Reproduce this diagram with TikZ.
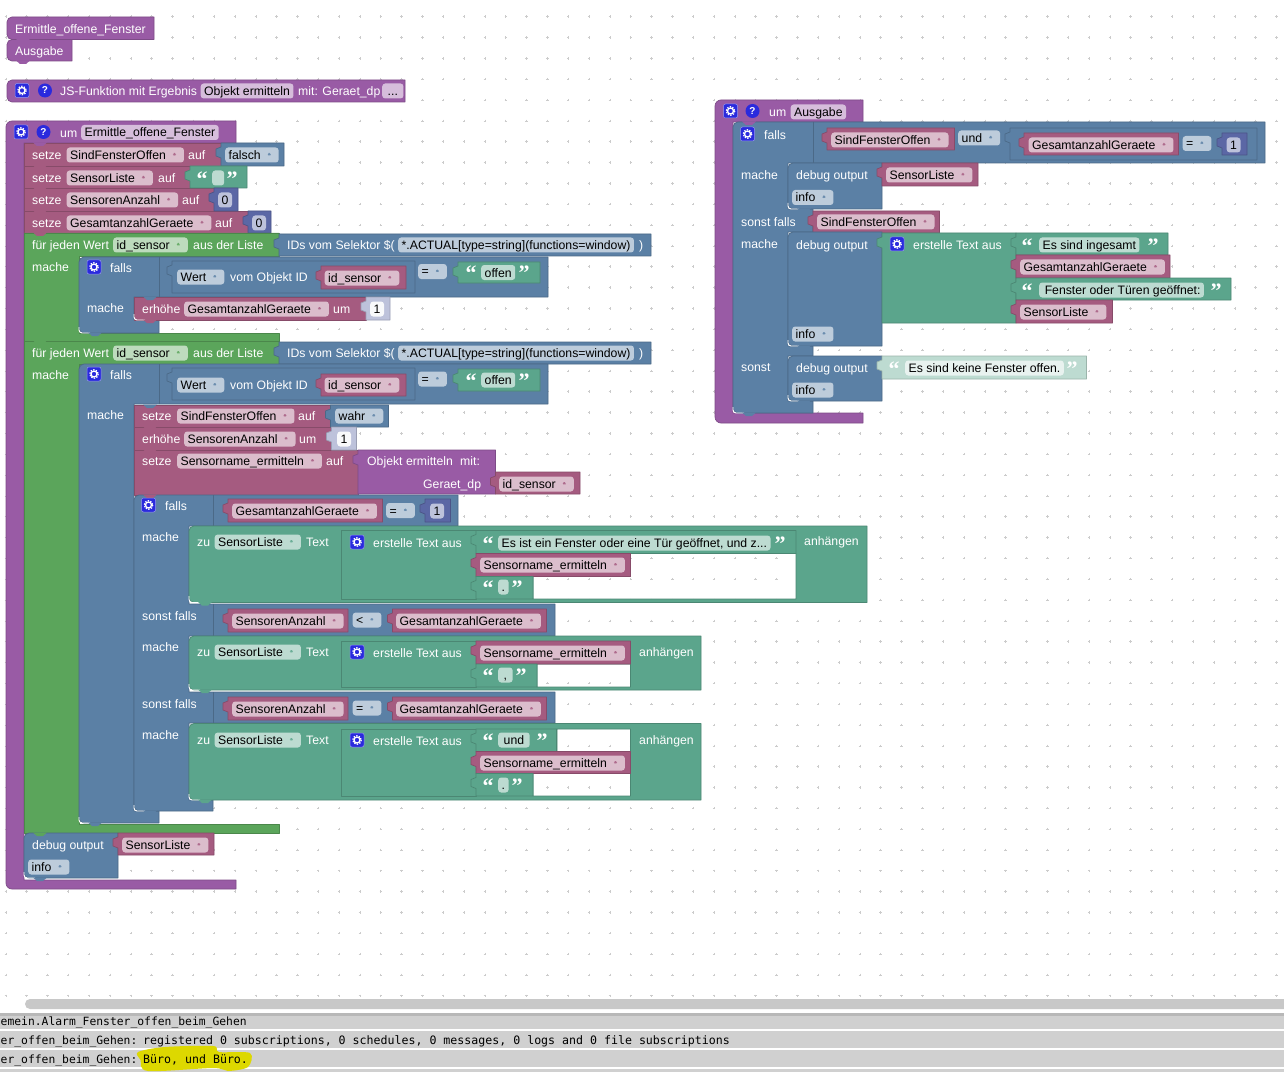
\documentclass[tikz,border=0pt]{standalone}
\usepackage{fontspec}
\setmainfont{Liberation Sans}
\newfontfamily\logfont{DejaVu Sans Mono}
\newfontfamily\quotefont{Liberation Serif}
\definecolor{fn}{HTML}{995BA5}
\definecolor{rd}{HTML}{A55B80}
\definecolor{lp}{HTML}{5BA55B}
\definecolor{lg}{HTML}{5B80A5}
\definecolor{tx}{HTML}{5BA58C}
\definecolor{nm}{HTML}{5B67A5}
\definecolor{nmpale}{HTML}{BDC2DB}
\definecolor{txpale}{HTML}{BDDBD1}
\definecolor{logrow}{HTML}{D0D0D0}
\definecolor{scrollb}{HTML}{C8C8C8}
\definecolor{marker}{HTML}{DDD800}
\definecolor{gearblue}{HTML}{2A2ADD}
\tikzset{
  every node/.append style={inner sep=0pt},
  bk/.style={fill=#1, draw=#1!82!black, line width=.7pt, line join=round},
  lb/.style={anchor=mid west, yshift=-2pt, text=white, font=\fontsize{12.25}{14}\selectfont},
  fd/.style={anchor=west, fill=#1!40!white, text=black, rounded corners=3pt, inner xsep=3.5pt,
    font=\fontsize{12.25}{14}\selectfont, minimum height=15pt, text height=10pt, text depth=1pt},
  dd/.style={fd=#1, execute at end node={\hspace{14.5pt}},
    path picture={\fill[#1!90!white] ([shift={(-12pt,2pt)}]path picture bounding box.east)
      -- ++(5pt,0pt) -- ++(-2.5pt,-4pt) -- cycle;}},
  qm/.style={anchor=mid west, xshift=-.5pt, yshift=-8pt, text=white, font=\quotefont\bfseries\fontsize{22}{22}\selectfont},
  hp/.style={circle, fill=gearblue, text=white, minimum size=14pt, font=\bfseries\fontsize{10}{10}\selectfont},
  logline/.style={anchor=mid west, yshift=-2pt, text=black, font=\logfont\fontsize{11.6}{13}\selectfont},
  logprefix/.style={anchor=mid west, yshift=-2pt, text=black, font=\logfont\fontsize{11.35}{13}\selectfont},
  shine/.style={draw=white, line width=.9pt, rounded corners=3pt},
  gearicon/.pic={
    \fill[gearblue, draw=gearblue!50!white, line width=.5pt, rounded corners=2pt] (-7,-7) rectangle (7,7);
    \draw[white, line width=1.3pt] (0,0) circle (3);
    \draw[white, line width=1.2pt, dash pattern=on 1.4pt off 1.3pt] (0,0) circle (4.3);
  }
}
% plain block, value block with a tab on the left, little tab hanging under a block
\newcommand{\blk}[5]{\draw[bk=#1] (#2,#3) rectangle (#4,#5);}
\newcommand{\val}[5]{\draw[bk=#1] (#2,#3) -- (#4,#3) -- (#4,#5) -- (#2,#5) -- (#2,#3+15) -- (#2-5,#3+13) -- (#2-5,#3+6) -- (#2,#3+4) -- cycle;}
\newcommand{\dent}[3]{\fill[#1] (#2+9,#3-.5) -- (#2+13,#3+3) -- (#2+19,#3+3) -- (#2+23,#3-.5) -- cycle;}
\newcommand{\rblk}[5]{\draw[bk=#1] (#4,#3) -- (#4,#5) [rounded corners=5pt] -- (#2,#5) -- (#2,#3) [sharp corners] -- cycle;}

\begin{document}
\begin{tikzpicture}[x=1pt,y=-1pt]
    \useasboundingbox (0,0) rectangle (1284,1075);
    \clip (0,0) rectangle (1284,1075);
    \fill[white] (0,0) rectangle (1284,1075);

    % workspace dots
    \foreach \i in {0,...,61}
      \foreach \j in {0,...,47}
        \draw[black!20, line width=.5pt] (5.8+20.83*\i-1.2,16.7+20.83*\j) -- ++(2.4,0) (5.8+20.83*\i,16.7+20.83*\j-1.2) -- ++(0,2.4);

    % call blocks top left
    \rblk{fn}{7}{17}{154}{39.5}
    \rblk{fn}{7}{39.5}{72}{61}
    \dent{fn}{7}{39.5}
    \dent{fn}{7}{61}
    \node[lb] (callA) at (15,29) {Ermittle\_offene\_Fenster};
    \node[lb] (callB) at (15,51) {Ausgabe};

    % JS function
    \rblk{fn}{7}{80}{405}{102}
    \pic at (22,90.5) {gearicon};
    \node[hp] (helpJs) at (45,90.5) {?};
    \node[lb] (jsText) at (60,91) {JS-Funktion mit Ergebnis};
    \node[fd=fn] (jsName) at (200.5,91) {Objekt ermitteln};
    \node[lb] (jsMit) at (298,91) {mit: Geraet\_dp};
    \node[fd=fn] (jsDots) at (382,91) {\,...\,};

    % function Ermittle_offene_Fenster
    \draw[bk=fn] (236,121) -- (236,143) -- (24,143) -- (24,880) -- (236,880) -- (236,889) [rounded corners=6pt] -- (6,889) -- (6,121) [sharp corners] -- cycle;
    \pic at (21,132) {gearicon};
    \node[hp] (helpMain) at (43.5,132) {?};
    \node[lb] (umMain) at (60,133) {um};
    \node[fd=fn] (mainName) at (81,132.5) {Ermittle\_offene\_Fenster};

    % first setze stack
    \blk{rd}{24}{143}{221}{166}
    \blk{rd}{24}{166}{190}{188}
    \blk{rd}{24}{188}{214}{211}
    \blk{rd}{24}{211}{248}{233}
    \val{lg}{221}{143}{284}{166}
    \val{tx}{190}{166}{247}{188}
    \val{nm}{214}{188}{238}{211}
    \val{nm}{248}{211}{271}{233}
    \dent{fn}{24}{143}
    \dent{rd}{24}{166}
    \dent{rd}{24}{188}
    \dent{rd}{24}{211}
    \node[lb] (setA) at (32,155) {setze};
    \node[dd=rd] (setAvar) at (66.5,155) {SindFensterOffen};
    \node[lb] (setAauf) at (188,155) {auf};
    \node[dd=lg] (setAval) at (225,155) {falsch};
    \node[lb] (setB) at (32,178) {setze};
    \node[dd=rd] (setBvar) at (66.5,178) {SensorListe};
    \node[lb] (setBauf) at (158,178) {auf};
    \node[qm] (setBq1) at (197,176) {“};
    \node[fd=tx, minimum width=12pt] (setBval) at (212,178) {};
    \node[qm] (setBq2) at (227,176) {”};
    \node[lb] (setC) at (32,200) {setze};
    \node[dd=rd] (setCvar) at (66.5,200) {SensorenAnzahl};
    \node[lb] (setCauf) at (182,200) {auf};
    \node[fd=nm] (setCval) at (218,200) {0};
    \node[lb] (setD) at (32,223) {setze};
    \node[dd=rd] (setDvar) at (66.5,223) {GesamtanzahlGeraete};
    \node[lb] (setDauf) at (215,223) {auf};
    \node[fd=nm] (setDval) at (252,223) {0};

    % first for each loop
    \draw[bk=lp] (24,233) -- (279,233) -- (279,256) -- (79,256) -- (79,333) -- (279,333) -- (279,341) -- (24,341) -- cycle;
    \val{lg}{279}{234}{651}{256}
    \dent{rd}{24}{233}
    \node[lb] (forA) at (32,245) {für jeden Wert};
    \node[dd=lp] (forAvar) at (113,245) {id\_sensor};
    \node[lb] (forAaus) at (193,245) {aus der Liste};
    \node[lb] (forAsel) at (287,245) {IDs vom Selektor \$(};
    \node[fd=lg] (forAstr) at (398,245) {*.ACTUAL[type=string](functions=window)};
    \node[lb] (forAend) at (639,245) {)};
    \node[lb] (forAmache) at (32,267) {mache};

    \draw[bk=lg] (548,257) -- (548,297) -- (134,297) -- (134,320) -- (159,320) -- (159,333) [rounded corners=5pt] -- (79,333) -- (79,257) [sharp corners] -- cycle;
    \draw[shine] (79,327) -- (79,333) -- (90,333);
    \dent{lg}{79}{333}
    \draw[bk=lg] (159,257) -- (159,297);
    \pic at (94,267) {gearicon};
    \node[lb] (ifA) at (110,268) {falls};
    \val{lg}{172}{261}{415}{293}
    \node[dd=lg] (ifAwert) at (177,277) {Wert};
    \node[lb] (ifAobj) at (230,277) {vom Objekt ID};
    \val{rd}{321}{266}{406}{289}
    \node[dd=rd] (ifAid) at (324.5,278) {id\_sensor};
    \node[dd=lg] (ifAeq) at (418,271.5) {=};
    \val{tx}{458}{262}{540}{283}
    \node[qm] (ifAq1) at (466,270) {“};
    \node[fd=tx] (ifAoffen) at (481,272.5) {offen};
    \node[qm] (ifAq2) at (519,270) {”};
    \node[lb] (ifAmache) at (87,308) {mache};
    \blk{rd}{134}{297}{366}{320}
    \draw[shine] (134,314) -- (134,320) -- (145,320);
    \dent{lg}{134}{297}
    \dent{rd}{134}{320}
    \val{nmpale}{366}{297}{390}{320}
    \node[lb] (incA) at (142,309) {erhöhe};
    \node[dd=rd] (incAvar) at (184,309) {GesamtanzahlGeraete};
    \node[lb] (incAum) at (333,309) {um};
    \node[fd=nmpale, fill=white!90!nmpale] (incAval) at (370,309) {1};

    % second for each loop
    \draw[bk=lp] (24,341) -- (279,341) -- (279,364) -- (79,364) -- (79,824) -- (279,824) -- (279,833) -- (24,833) -- cycle;
    \val{lg}{279}{342}{651}{364}
    \dent{lp}{24}{341}
    \node[lb] (forB) at (32,353) {für jeden Wert};
    \node[dd=lp] (forBvar) at (113,353) {id\_sensor};
    \node[lb] (forBaus) at (193,353) {aus der Liste};
    \node[lb] (forBsel) at (287,353) {IDs vom Selektor \$(};
    \node[fd=lg] (forBstr) at (398,353) {*.ACTUAL[type=string](functions=window)};
    \node[lb] (forBend) at (639,353) {)};
    \node[lb] (forBmache) at (32,375) {mache};

    \draw[bk=lg] (548,364) -- (548,404) -- (134,404) -- (134,811) -- (159,811) -- (159,823) [rounded corners=5pt] -- (79,823) -- (79,364) [sharp corners] -- cycle;
    \draw[shine] (79,817) -- (79,823) -- (90,823);
    \dent{lg}{79}{823}
    \draw[bk=lg] (159,364) -- (159,404);
    \pic at (94,374) {gearicon};
    \node[lb] (ifB) at (110,375) {falls};
    \val{lg}{172}{368}{415}{400}
    \node[dd=lg] (ifBwert) at (177,385) {Wert};
    \node[lb] (ifBobj) at (230,385) {vom Objekt ID};
    \val{rd}{321}{374}{406}{396}
    \node[dd=rd] (ifBid) at (324.5,385) {id\_sensor};
    \node[dd=lg] (ifBeq) at (418,379) {=};
    \val{tx}{458}{369}{540}{391}
    \node[qm] (ifBq1) at (466,378) {“};
    \node[fd=tx] (ifBoffen) at (481,380) {offen};
    \node[qm] (ifBq2) at (519,378) {”};
    \node[lb] (ifBmache) at (87,415) {mache};

    % statements inside the second falls
    \blk{rd}{134}{405}{330.5}{427}
    \blk{rd}{134}{427}{331.5}{450}
    \blk{rd}{134}{450}{358}{495}
    \val{lg}{330.5}{405}{388.5}{427}
    \val{nmpale}{331.5}{427}{356.5}{450}
    \val{fn}{358}{450}{495.5}{494}
    \val{rd}{495.5}{472}{580}{494}
    \dent{lg}{134}{405}
    \dent{rd}{134}{427}
    \dent{rd}{134}{450}
    \node[lb] (setE) at (142,416) {setze};
    \node[dd=rd] (setEvar) at (177,416) {SindFensterOffen};
    \node[lb] (setEauf) at (298,416) {auf};
    \node[dd=lg] (setEval) at (335,416) {wahr};
    \node[lb] (incB) at (142,439) {erhöhe};
    \node[dd=rd] (incBvar) at (184,439) {SensorenAnzahl};
    \node[lb] (incBum) at (299,439) {um};
    \node[fd=nmpale, fill=white!90!nmpale] (incBval) at (337,439) {1};
    \node[lb] (setF) at (142,461) {setze};
    \node[dd=rd] (setFvar) at (177,461) {Sensorname\_ermitteln};
    \node[lb] (setFauf) at (326,461) {auf};
    \node[lb] (objName) at (367,461) {Objekt ermitteln};
    \node[lb] (objMit) at (460,461) {mit:};
    \node[lb] (objArg) at (423,484) {Geraet\_dp};
    \node[dd=rd] (objId) at (499,484) {id\_sensor};

    % inner falls with the two sonst falls
    \draw[bk=lg] (458,495) -- (458,526) -- (189,526) -- (189,604) -- (555,604) -- (555,636) -- (189,636) -- (189,692) -- (555,692) -- (555,723) -- (189,723) -- (189,800) -- (213,800) -- (213,811) [rounded corners=5pt] -- (134,811) -- (134,495) [sharp corners] -- cycle;
    \draw[shine] (134,805) -- (134,811) -- (145,811);
    \dent{rd}{134}{495}
    \dent{lg}{134}{811}
    \draw[bk=lg] (213,495) -- (213,526);
    \draw[bk=lg] (213,604) -- (213,636);
    \draw[bk=lg] (213,692) -- (213,723);
    \pic at (148.5,505) {gearicon};
    \node[lb] (ifC) at (165,506) {falls};
    \val{rd}{228}{499}{382.5}{522}
    \node[dd=rd] (ifCvar) at (232,511) {GesamtanzahlGeraete};
    \node[dd=lg] (ifCeq) at (386,510.5) {=};
    \val{nm}{425}{499}{450.5}{522}
    \node[fd=nm] (ifCval) at (430,511) {1};
    \node[lb] (ifCmache) at (142,537) {mache};
    \node[lb] (elifA) at (142,616) {sonst falls};
    \val{rd}{228}{609}{348}{632}
    \node[dd=rd] (elifAvar) at (232,621) {SensorenAnzahl};
    \node[dd=lg] (elifAlt) at (352.5,620) {<};
    \val{rd}{392.5}{609}{546.5}{632}
    \node[dd=rd] (elifAsum) at (396,621) {GesamtanzahlGeraete};
    \node[lb] (elifAmache) at (142,647) {mache};
    \node[lb] (elifB) at (142,704) {sonst falls};
    \val{rd}{228}{697}{348}{720}
    \node[dd=rd] (elifBvar) at (232,709) {SensorenAnzahl};
    \node[dd=lg] (elifBeq) at (352.5,708) {=};
    \val{rd}{392.5}{697}{546.5}{720}
    \node[dd=rd] (elifBsum) at (396,709) {GesamtanzahlGeraete};
    \node[lb] (elifBmache) at (142,735) {mache};

    % first anhaengen block, holes let the dots through
    \draw[bk=tx, even odd rule] (867,526) -- (867,602.5) [rounded corners=5pt] -- (189,602.5) -- (189,526) [sharp corners] -- cycle
       (533,576.5) -- (630.5,576.5) -- (630.5,553.5) -- (796,553.5) -- (796,599) -- (533,599) -- cycle;
    \draw[shine] (189,596) -- (189,602.5) -- (200,602.5);
    \dent{lg}{134}{526}
    \dent{tx}{189}{602.5}
    \node[lb] (addA) at (197,542) {zu};
    \node[dd=tx] (addAvar) at (214.5,542) {SensorListe};
    \node[lb] (addAtext) at (306,542) {Text};
    \blk{tx}{341.5}{530.5}{476}{599}
    \pic at (357,542) {gearicon};
    \node[lb] (joinA) at (373,543) {erstelle Text aus};
    \val{tx}{476}{530.5}{796}{553.5}
    \node[qm] (joinAq1) at (483,541) {“};
    \node[fd=tx] (joinAa) at (498,543) {Es ist ein Fenster oder eine Tür geöffnet, und z...};
    \node[qm] (joinAq2) at (775,541) {”};
    \val{rd}{476}{553.5}{630.5}{576.5}
    \node[dd=rd] (joinAb) at (480,565) {Sensorname\_ermitteln};
    \val{tx}{476}{576.5}{533}{599}
    \node[qm] (joinAq3) at (483,585) {“};
    \node[fd=tx] (joinAc) at (498,587) {.};
    \node[qm] (joinAq4) at (512,585) {”};
    \node[lb] (addAend) at (804,541) {anhängen};

    % second anhaengen block
    \draw[bk=tx, even odd rule] (701,636) -- (701,690) [rounded corners=5pt] -- (189,690) -- (189,636) [sharp corners] -- cycle
       (537,664) -- (630.5,664) -- (630.5,687) -- (537,687) -- cycle;
    \draw[shine] (189,684) -- (189,690) -- (200,690);
    \dent{tx}{189}{690}
    \node[lb] (addB) at (197,652) {zu};
    \node[dd=tx] (addBvar) at (214.5,652) {SensorListe};
    \node[lb] (addBtext) at (306,652) {Text};
    \blk{tx}{341.5}{641}{476}{687}
    \pic at (357,652) {gearicon};
    \node[lb] (joinB) at (373,653) {erstelle Text aus};
    \val{rd}{476}{641}{630.5}{664}
    \node[dd=rd] (joinBa) at (480,653) {Sensorname\_ermitteln};
    \val{tx}{476}{664}{537}{687}
    \node[qm] (joinBq1) at (483,673) {“};
    \node[fd=tx] (joinBb) at (498,675) {\,,\,};
    \node[qm] (joinBq2) at (516,673) {”};
    \node[lb] (addBend) at (639,652) {anhängen};

    % third anhaengen block
    \draw[bk=tx, even odd rule] (701,723.5) -- (701,800) [rounded corners=5pt] -- (189,800) -- (189,723.5) [sharp corners] -- cycle
       (557,729) -- (630.5,729) -- (630.5,751.5) -- (557,751.5) -- cycle
       (533,773.5) -- (630.5,773.5) -- (630.5,796) -- (533,796) -- cycle;
    \draw[shine] (189,794) -- (189,800) -- (200,800);
    \dent{tx}{189}{800}
    \node[lb] (addC) at (197,740) {zu};
    \node[dd=tx] (addCvar) at (214.5,740) {SensorListe};
    \node[lb] (addCtext) at (306,740) {Text};
    \blk{tx}{341.5}{729}{476}{796}
    \pic at (357,740) {gearicon};
    \node[lb] (joinC) at (373,741) {erstelle Text aus};
    \val{tx}{476}{729}{556.5}{751.5}
    \node[qm] (joinCq1) at (483,738) {“};
    \node[fd=tx] (joinCa) at (498,740) {\,und\,};
    \node[qm] (joinCq2) at (537,738) {”};
    \val{rd}{476}{751.5}{630.5}{773.5}
    \node[dd=rd] (joinCb) at (480,763) {Sensorname\_ermitteln};
    \val{tx}{476}{773.5}{533}{796}
    \node[qm] (joinCq3) at (483,783) {“};
    \node[fd=tx] (joinCc) at (498,785) {.};
    \node[qm] (joinCq4) at (512,783) {”};
    \node[lb] (addCend) at (639,740) {anhängen};

    % debug output at the end of the function
    \rblk{lg}{24}{833}{118}{878}
    \draw[shine] (24,872) -- (24,878) -- (35,878);
    \dent{lp}{24}{833}
    \dent{lg}{24}{878}
    \val{rd}{118}{833}{214}{855}
    \node[lb] (logA) at (32,845) {debug output};
    \node[dd=rd] (logAvar) at (122,845) {SensorListe};
    \node[dd=lg] (logAinfo) at (28,867) {info};

    % function Ausgabe on the right
    \draw[bk=fn] (863,100) -- (863,122) -- (733,122) -- (733,413) -- (863,413) -- (863,423) [rounded corners=6pt] -- (715,423) -- (715,100) [sharp corners] -- cycle;
    \pic at (730.5,111) {gearicon};
    \node[hp] (helpOut) at (752.5,111) {?};
    \node[lb] (umOut) at (769,112) {um};
    \node[fd=fn] (outName) at (790.5,112) {Ausgabe};

    \draw[bk=lg] (1265,122) -- (1265,163) -- (788,163) -- (788,209) -- (813,209) -- (813,232) -- (788,232) -- (788,346) -- (813,346) -- (813,356) -- (788,356) -- (788,401) -- (813,401) -- (813,413) [rounded corners=5pt] -- (733,413) -- (733,122) [sharp corners] -- cycle;
    \draw[shine] (733,407) -- (733,413) -- (744,413);
    \dent{fn}{733}{122}
    \dent{lg}{733}{413}
    \draw[bk=lg] (813,122) -- (813,163);
    \pic at (747.5,134) {gearicon};
    \node[lb] (ifD) at (764,135) {falls};
    \val{rd}{827}{128}{954.5}{150}
    \node[dd=rd] (ifDvar) at (831,140) {SindFensterOffen};
    \node[dd=lg] (ifDund) at (958,138) {und};
    \val{lg}{1010}{128}{1257}{160}
    \val{rd}{1024}{133}{1178.5}{155}
    \node[dd=rd] (ifDsum) at (1028.5,145) {GesamtanzahlGeraete};
    \node[dd=lg] (ifDeq) at (1182.5,143.5) {=};
    \val{nm}{1222}{133}{1247}{155}
    \node[fd=nm] (ifDval) at (1226.5,145) {1};

    \node[lb] (ifDmache) at (741,175) {mache};
    \rblk{lg}{788}{163}{882}{209}
    \draw[shine] (788,203) -- (788,209) -- (799,209);
    \dent{lg}{788}{209}
    \node[lb] (logB) at (796,175) {debug output};
    \val{rd}{882}{163}{978}{186}
    \node[dd=rd] (logBvar) at (886,175) {SensorListe};
    \node[dd=lg] (logBinfo) at (792,197.5) {info};

    \node[lb] (elifC) at (741,222) {sonst falls};
    \val{rd}{813}{211}{939.5}{233}
    \node[dd=rd] (elifCvar) at (817,222) {SindFensterOffen};

    \node[lb] (elifCmache) at (741,244) {mache};
    \rblk{lg}{788}{232}{882}{346}
    \draw[shine] (788,340) -- (788,346) -- (799,346);
    \dent{lg}{788}{346}
    \node[lb] (logC) at (796,245) {debug output};
    \val{tx}{882}{233}{1016}{323}
    \pic at (897,244) {gearicon};
    \node[lb] (joinD) at (913,245) {erstelle Text aus};
    \val{tx}{1016}{233}{1168}{255}
    \node[qm] (joinDq1) at (1022,243) {“};
    \node[fd=tx] (joinDa) at (1039,245) {Es sind ingesamt};
    \node[qm] (joinDq2) at (1148,243) {”};
    \val{rd}{1016}{255}{1170}{278}
    \node[dd=rd] (joinDb) at (1020,267) {GesamtanzahlGeraete};
    \val{tx}{1016}{278}{1231}{300}
    \node[qm] (joinDq3) at (1022,288) {“};
    \node[fd=tx] (joinDc) at (1039,290) {\,Fenster oder Türen geöffnet:};
    \node[qm] (joinDq4) at (1211,288) {”};
    \val{rd}{1016}{300}{1112.5}{323}
    \node[dd=rd] (joinDd) at (1020,312) {SensorListe};
    \node[dd=lg] (logCinfo) at (792,334) {info};

    \node[lb] (elseA) at (741,367) {sonst};
    \rblk{lg}{788}{356}{882}{401}
    \draw[shine] (788,395) -- (788,401) -- (799,401);
    \dent{lg}{788}{401}
    \node[lb] (logD) at (796,368) {debug output};
    \val{txpale}{882}{356}{1086.5}{379}
    \node[qm] (logDq1) at (889,366) {“};
    \node[fd=txpale, fill=white!65!txpale] (logDval) at (905,368) {Es sind keine Fenster offen.};
    \node[qm] (logDq2) at (1067,366) {”};
    \node[dd=lg] (logDinfo) at (792,390) {info};

    % scrollbar and log lines
    \fill[scrollb, rounded corners=5pt] (25,999) rectangle (1300,1009);
    \fill[logrow] (0,1013) rectangle (1284,1029);
    \fill[black!28] (0,1013) rectangle (1284,1016);
    \fill[logrow] (0,1031) rectangle (1284,1048);
    \fill[logrow] (0,1050) rectangle (1284,1067);
    \fill[logrow] (0,1069) rectangle (1284,1072);
    \fill[marker] plot[smooth cycle] coordinates {(138,1052) (165,1047) (213,1046) (219,1052) (250,1053) (248,1067) (228,1071) (213,1068) (148,1071) (140.5,1060)};
    \node[logprefix] (logRowA) at (.5,1021) {emein.Alarm\_Fenster\_offen\_beim\_Gehen};
    \node[logprefix] (logRowBa) at (.5,1040) {er\_offen\_beim\_Gehen:};
    \node[logline] (logRowBb) at (143,1040) {registered 0 subscriptions, 0 schedules, 0 messages, 0 logs and 0 file subscriptions};
    \node[logprefix] (logRowCa) at (.5,1059) {er\_offen\_beim\_Gehen:};
    \node[logline] (logRowCb) at (143,1059) {Büro, und Büro.};

\end{tikzpicture}
\end{document}
